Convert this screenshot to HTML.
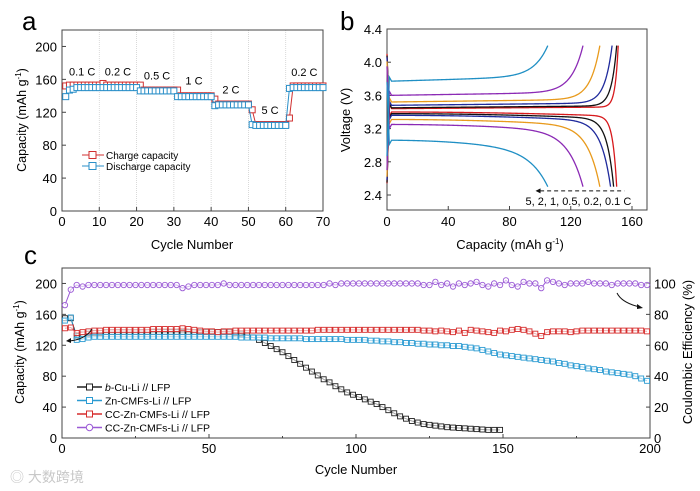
<!DOCTYPE html>
<html><head><meta charset="utf-8"><style>
html,body{margin:0;padding:0;background:#fff;}
svg{display:block;font-family:"Liberation Sans",Arial,sans-serif;}
</style></head><body>
<svg id="s" width="700" height="491" viewBox="0 0 700 491" xmlns="http://www.w3.org/2000/svg">
<text x="22" y="30" font-size="26">a</text>
<text x="340" y="30" font-size="26">b</text>
<text x="24" y="264" font-size="26">c</text>
<text x="10" y="482" font-size="14" fill="#c8c8c8" font-family="'Liberation Sans','Noto Sans CJK SC',sans-serif">◎ 大数跨境</text>
</svg>
<script>
// ---------- Panel a data ----------
const aCycles=[1,2,3,4,5,6,7,8,9,10,11,12,13,14,15,16,17,18,19,20,21,22,23,24,25,26,27,28,29,30,31,32,33,34,35,36,37,38,39,40,41,42,43,44,45,46,47,48,49,50,51,52,53,54,55,56,57,58,59,60,61,62,63,64,65,66,67,68,69,70];
const aCharge=[152,153,153,153,153,153,153,153,153,153,155,153,153,153,153,153,153,153,153,153,153,147,147,147,147,147,147,147,147,147,147,140,140,140,140,140,140,140,140,140,136,130,130,130,130,130,130,130,130,130,123,105,105,105,105,105,105,105,105,105,113,152,152,152,152,152,152,152,152,152];
const aDischarge=[139,147,148,150,150,150,150,150,150,150,150,150,150,150,150,150,150,150,150,150,146,146,146,146,146,146,146,146,146,146,139,139,139,139,139,139,139,139,139,139,128,129,129,129,129,129,129,129,129,129,105,104,104,104,104,104,104,104,104,104,149,150,150,150,150,150,150,150,150,150];
const aXTicks=[0,10,20,30,40,50,60,70];
const aYTicks=[0,40,80,120,160,200];
const aRateLabels=["0.1 C","0.2 C","0.5 C","1 C","2 C","5 C","0.2 C"];
const aRateX=[5.4,15,25.5,35.4,45.3,55.8,65];
const aRateY=[165,165,160,154,143,118,164];
// ---------- Panel b data ----------
const bRates=["0.1","0.2","0.5","1","2","5"];
const bColors=["#d7191c","#111111","#1f2a9c","#e89a1c","#8b2ab5","#1f8fc4"];
const bChargePlateau=[3.44,3.45,3.48,3.52,3.60,3.77];
const bDischargePlateau=[3.40,3.38,3.36,3.31,3.25,3.06];
const bChargeCap=[151,150,147,139,128,105];
const bDischargeCap=[150,148,146,139,128,105];
const bXTicks=[0,40,80,120,160];
const bYTicks=[2.4,2.8,3.2,3.6,4.0,4.4];
// ---------- Panel c data (cycles 1,3,5,...) ----------
const cBCu=[155,155,132,134,135,136,136,137,137,137,137,137,137,137,137,137,137,137,137,137,137,137,137,137,137,137,137,137,137,136,135,133,130,127,123,119,115,111,106,101,96,91,86,81,76,72,67,63,59,56,53,50,47,44,40,36,32,28,25,22,20,18,17,16,15,14,13.5,13,12.5,12,11.5,11,10.5,10.5,10.5];
const cZn=[152,156,127,128,130,131,131,131,131,131,131,131,131,131,131,131,131,131,131,131,131,131,131,131,131,131,131,131,131,131,130,130,130,130,130,129,129,129,129,129,129,128,128,128,128,128,128,128,127,127,127,127,126,126,125,125,124,124,123,123,122,122,121,121,120,120,119,119,118,117,116,114,112,110,108,107,106,105,104,103,102,101,100,99,97,96,94,93,92,90,89,88,86,85,84,83,82,80,77,74];
const cCC=[142,143,136,137,138,139,139,140,140,140,140,140,140,140,140,141,141,141,141,141,142,141,140,139,138,138,137,138,138,139,139,139,139,139,139,139,139,139,139,139,139,139,139,140,140,140,140,140,140,140,140,140,140,140,140,140,140,140,140,140,140,139,139,138,139,138,137,139,136,140,139,138,137,136,139,138,140,141,140,138,135,132,137,138,138,138,137,138,139,139,139,139,139,139,139,139,139,139,139,138];
const cCE=[86,96,99,98,99,99,99,99,99,99,99,99,99,99,99,99,99,99,99,99,97,98,99,99,99,99,99,100,99,99,99,99,99,99,99,99,99,99,99,99,99,99,99,99,99,100,99,100,100,100,100,100,100,100,100,100,100,100,100,100,100,99,99,101,99,100,98,100,99,100,101,99,98,100,99,102,99,98,101,100,100,97,102,101,100,99,100,100,100,101,100,100,100,99,100,100,100,100,99,99];
const cXTicks=[0,50,100,150,200];
const cYTicks=[0,40,80,120,160,200];
const cY2Ticks=[0,20,40,60,80,100];
const cLegend=["b-Cu-Li // LFP","Zn-CMFs-Li // LFP","CC-Zn-CMFs-Li // LFP","CC-Zn-CMFs-Li // LFP"];
const cColors=["#222222","#2b9bd2","#d62d2d","#9b5ad6"];

const NS="http://www.w3.org/2000/svg";
const S=document.getElementById('s');
function el(t,a,p){const e=document.createElementNS(NS,t);for(const k in a)e.setAttribute(k,a[k]);(p||S).appendChild(e);return e;}
function txt(x,y,s,a,p){const e=el('text',Object.assign({x:x,y:y},a),p);e.textContent=s;return e;}
function lin(x0,x1,p0,p1){return v=>p0+(v-x0)/(x1-x0)*(p1-p0);}

// ===== Panel a =====
{
const g=el('g',{});


const X=lin(0,70,62,323),Y=lin(0,220,211,30);
aXTicks.forEach(t=>{if(t>0&&t<70){const l=el('line',{x1:X(t),x2:X(t),y1:30,y2:211,stroke:'#d0d0d0','stroke-width':0.8,'stroke-dasharray':'1,1'},g);}});
const box=el('rect',{x:62,y:30,width:261,height:181,fill:'none',stroke:'#444','stroke-width':1},g);

aXTicks.forEach(t=>{el('line',{x1:X(t),x2:X(t),y1:211,y2:207,stroke:'#444'},g);const e=txt(X(t),226,t,{'font-size':13,'text-anchor':'middle'},g);});
aYTicks.forEach(t=>{el('line',{x1:62,x2:66,y1:Y(t),y2:Y(t),stroke:'#444'},g);const e=txt(57,Y(t)+5,t,{'font-size':13,'text-anchor':'end'},g);});
let t=txt(192,249,'Cycle Number',{'font-size':13,'text-anchor':'middle'},g);
t=el('text',{transform:'translate(26,120) rotate(-90)','font-size':12.5,'text-anchor':'middle'},g);t.innerHTML='Capacity (mAh g<tspan dy="-5" font-size="8">-1</tspan><tspan dy="5">)</tspan>';

[[aCharge,'#d03030'],[aDischarge,'#2a8fc8']].forEach(([d,c],si)=>{
 const pl=el('polyline',{points:d.map((v,i)=>X(aCycles[i])+','+Y(v)).join(' '),fill:'none',stroke:c,'stroke-width':1},g);
 
 d.forEach((v,i)=>{const r=el('rect',{x:X(aCycles[i])-3,y:Y(v)-3,width:6,height:6,fill:'#fff',stroke:c,'stroke-width':1},g);
 });
});
aRateLabels.forEach((s,i)=>{const e=txt(X(aRateX[i]),Y(aRateY[i]),s,{'font-size':11,'text-anchor':'middle'},g);});
[['Charge capacity','#d03030',155],['Discharge capacity','#2a8fc8',166]].forEach(([s,c,y])=>{
 const lg=el('g',{},g);
 el('line',{x1:82,x2:104,y1:y,y2:y,stroke:c,'stroke-width':1},lg);
 el('rect',{x:89,y:y-3.5,width:7,height:7,fill:'#fff',stroke:c},lg);
 txt(106,y+4,s,{'font-size':10},lg);
});
}
// ===== Panel b =====
{
const g=el('g',{});


const X=lin(0,160,387,632),Y=lin(2.4,4.4,195,29);
const box=el('rect',{x:387,y:29,width:260,height:181,fill:'none',stroke:'#444','stroke-width':1},g);

bXTicks.forEach(t=>{el('line',{x1:X(t),x2:X(t),y1:210,y2:206,stroke:'#444'},g);const e=txt(X(t),226,t,{'font-size':13,'text-anchor':'middle'},g);});
bYTicks.forEach(t=>{el('line',{x1:387,x2:391,y1:Y(t),y2:Y(t),stroke:'#444'},g);const e=txt(382,Y(t)+5,t.toFixed(1),{'font-size':13,'text-anchor':'end'},g);});
let t=el('text',{x:510,y:249,'font-size':13,'text-anchor':'middle'},g);t.innerHTML='Capacity (mAh g<tspan dy="-5" font-size="8">-1</tspan><tspan dy="5">)</tspan>';

t=txt(0,0,'Voltage (V)',{transform:'translate(350,120) rotate(-90)','font-size':13,'text-anchor':'middle'},g);
bRates.forEach((r,i)=>{
 const w=2+i*1.4, s=i==5?0.14:0.05+i*0.01;
 let pts=[];const C=bChargeCap[i],p=bChargePlateau[i];
 pts.push([0,p-0.9]);pts.push([1.5,p+0.05]);
 for(let q=3;q<=C;q+=0.5){let v=p+s*0.4*(q/C)+(4.2-p-s*0.4)*Math.exp((q-C)/w);pts.push([q,Math.min(v,4.2)]);}
 const pc=el('polyline',{points:pts.map(a=>X(a[0])+','+Y(a[1])).join(' '),fill:'none',stroke:bColors[i],'stroke-width':1.3},g);
 
 pts=[];const D=bDischargeCap[i],d=bDischargePlateau[i];
 pts.push([0,d+0.7]);pts.push([1.5,d-0.05]);
 for(let q=3;q<=D;q+=0.5){let v=d-s*(q/D)*(q/D)-(d-s-2.5)*Math.exp((q-D)/(w*1.3));pts.push([q,Math.max(v,2.5)]);}
 const pd=el('polyline',{points:pts.map(a=>X(a[0])+','+Y(a[1])).join(' '),fill:'none',stroke:bColors[i],'stroke-width':1.3},g);
 
});
const ar=el('line',{x1:X(100),x2:X(155),y1:Y(2.45),y2:Y(2.45),stroke:'#111','stroke-dasharray':'4,3','stroke-width':1},g);

el('path',{d:`M${X(97)},${Y(2.45)} l5,-2.5 l0,5 z`,fill:'#111'},g);
t=txt(X(125),Y(2.45)+14,'5, 2, 1, 0.5, 0.2, 0.1 C',{'font-size':11,'text-anchor':'middle'},g);
}
// ===== Panel c =====
{
const g=el('g',{});


const X=lin(0,200,62,650),Y=lin(0,220,438,268),Y2=lin(0,110,438,268);
const box=el('rect',{x:62,y:268,width:588,height:170,fill:'none',stroke:'#444','stroke-width':1},g);

cXTicks.forEach(t=>{el('line',{x1:X(t),x2:X(t),y1:438,y2:434,stroke:'#444'},g);const e=txt(X(t),453,t,{'font-size':13,'text-anchor':'middle'},g);});
[25,75,125,175].forEach(t=>el('line',{x1:X(t),x2:X(t),y1:438,y2:436,stroke:'#444'},g));
cYTicks.forEach(t=>{el('line',{x1:62,x2:66,y1:Y(t),y2:Y(t),stroke:'#444'},g);const e=txt(57,Y(t)+5,t,{'font-size':13,'text-anchor':'end'},g);});
cY2Ticks.forEach(t=>{el('line',{x1:650,x2:646,y1:Y2(t),y2:Y2(t),stroke:'#444'},g);const e=txt(654,Y2(t)+5,t,{'font-size':13},g);});
let t=txt(356,474,'Cycle Number',{'font-size':13,'text-anchor':'middle'},g);
t=el('text',{transform:'translate(24,352) rotate(-90)','font-size':12.5,'text-anchor':'middle'},g);t.innerHTML='Capacity (mAh g<tspan dy="-5" font-size="8">-1</tspan><tspan dy="5">)</tspan>';

t=txt(0,0,'Coulombic Efficiency (%)',{transform:'translate(692,352) rotate(-90)','font-size':13,'text-anchor':'middle'},g);
const series=[[cBCu,Y,'sq','series-b-cu-li'],[cZn,Y,'sq','series-zn-cmfs-li'],[cCC,Y,'sq','series-cc-zn-cmfs-li'],[cCE,Y2,'ci','series-coulombic-efficiency']];
series.forEach(([d,YY,m,nm],si)=>{
 const sg=el('g',{},g);
 el('polyline',{points:d.map((v,i)=>X(1+2*i)+','+YY(v)).join(' '),fill:'none',stroke:cColors[si],'stroke-width':1},sg);
 d.forEach((v,i)=>{const x=X(1+2*i),y=YY(v);
  const mk=m=='sq'?el('rect',{x:x-2.5,y:y-2.5,width:5,height:5,fill:'#fff','fill-opacity':0.6,stroke:cColors[si],'stroke-width':0.9},sg):el('circle',{cx:x,cy:y,r:2.7,fill:'#fff','fill-opacity':0.6,stroke:cColors[si],'stroke-width':0.9},sg);
  });
});
cLegend.forEach((s,i)=>{
 const y=387+i*13.5;const lg=el('g',{},g);
 el('line',{x1:77,x2:102,y1:y,y2:y,stroke:cColors[i],'stroke-width':1.5},lg);
 if(i<3)el('rect',{x:86.5,y:y-3,width:6,height:6,fill:'#fff',stroke:cColors[i]},lg);else el('circle',{cx:89.5,cy:y,r:3.2,fill:'#fff',stroke:cColors[i]},lg);
 const tt=txt(105,y+4,'',{'font-size':10.5},lg);
 if(i==0){tt.innerHTML='<tspan font-style="italic">b</tspan>-Cu-Li // LFP';}else tt.textContent=s;
});
const a1=el('path',{d:'M92,329 Q85,340 68,341',fill:'none',stroke:'#111','stroke-width':1},g);
el('path',{d:'M66,341 l5,-3 l0,5 z',fill:'#111'},g);
const a2=el('path',{d:'M617,293 Q622,303 640,307',fill:'none',stroke:'#111','stroke-width':1},g);
el('path',{d:'M643,308 l-6,-4 l0,5 z',fill:'#111'},g);
}
</script>
</body></html>
